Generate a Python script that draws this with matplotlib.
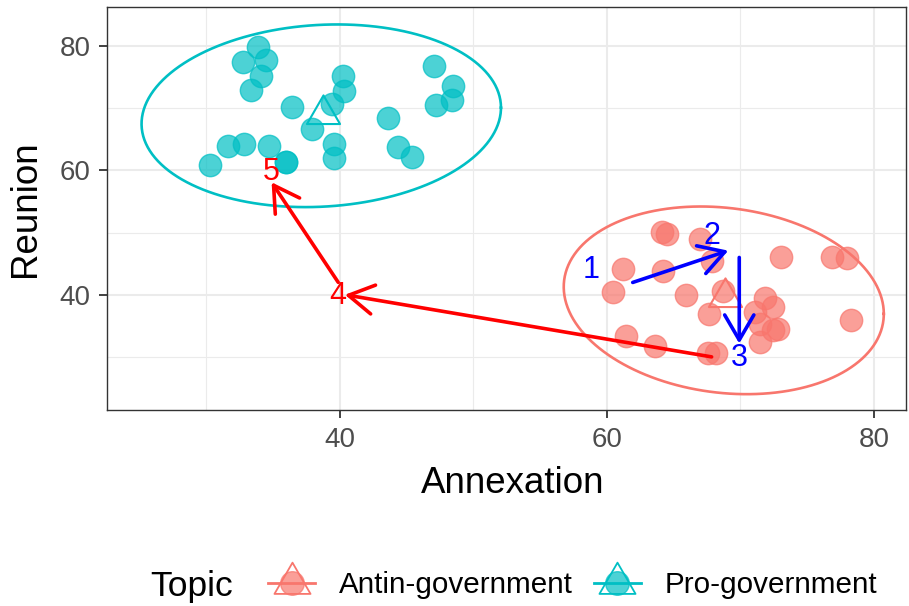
import numpy as np
import matplotlib
matplotlib.use("Agg")
import matplotlib.pyplot as plt
from matplotlib.lines import Line2D
from matplotlib.path import Path
from matplotlib.legend_handler import HandlerTuple
from matplotlib.ticker import MultipleLocator

plt.rcParams["font.family"] = ["Liberation Sans", "DejaVu Sans"]

# points
anti_x = [64.10, 64.47, 66.97, 67.84, 61.22, 60.43, 64.17, 65.92, 68.66, 67.64,
          73.00, 76.88, 77.95, 78.30, 61.42, 63.60, 67.57, 68.19, 71.84, 72.46,
          71.09, 71.46, 72.83, 72.46, 71.46]
anti_y = [50.05, 49.79, 48.98, 45.48, 44.15, 40.37, 43.76, 39.95, 40.65, 36.89,
          46.02, 46.13, 45.92, 35.97, 33.39, 31.77, 30.69, 30.69, 39.40, 38.02,
          37.26, 35.37, 34.56, 34.30, 32.40]
pro_x = [33.88, 32.71, 34.46, 34.06, 33.31, 36.38, 40.20, 40.30, 39.38, 37.88,
         31.59, 32.81, 30.26, 34.68, 35.96, 35.96, 39.57, 39.57, 43.62, 44.37,
         45.42, 47.06, 48.44, 48.41, 47.19]
pro_y = [79.90, 77.47, 77.74, 75.16, 73.02, 70.21, 75.16, 72.79, 70.65, 66.73,
         63.87, 64.31, 60.81, 63.87, 61.34, 61.34, 64.19, 62.05, 68.50, 63.76,
         62.15, 76.77, 73.60, 71.40, 70.48]

# ellipse centre and shape matrix [[a, b], [b, d]]
anti_ell_center = [68.75, 39.1]
anti_ell_shape = [[143.7, -26.0], [-26.0, 228.0]]
pro_ell_center = [38.6, 68.8]
pro_ell_shape = [[181.2, 17.5], [17.5, 216.0]]

# arrows: (x0, y0, x1, y1)
blue_arrows = [(61.93, 41.98, 69.09, 47.10), (69.91, 46.00, 69.91, 32.15)]
red_arrows = [(67.84, 30.00, 40.37, 40.00), (39.87, 42.00, 34.88, 58.10)]
blue_labels = ["1", "2", "3"]
blue_lab_x = [58.85, 67.84, 69.91]
blue_lab_y = [44.03, 49.52, 29.79]
red_labels = ["4", "5"]
red_lab_x = [39.87, 34.88]
red_lab_y = [39.73, 59.73]

topics = ["Antin-government", "Pro-government"]
colors = ["#F8766D", "#00BFC4"]

tri = Path([(-1, -0.577), (1, -0.577), (0, 1.155), (-1, -0.577)],
           [Path.MOVETO, Path.LINETO, Path.LINETO, Path.CLOSEPOLY])


def ellipse_pts(center, shape):
    t = np.linspace(0, 2 * np.pi, 300)
    L = np.linalg.cholesky(np.array(shape))
    pts = L @ np.vstack([np.cos(t), np.sin(t)])
    return center[0] + pts[0], center[1] + pts[1]


fig = plt.figure(figsize=(9.09, 6.06), dpi=100)
ax = fig.add_axes([0.1177, 0.3234, 0.879, 0.665])

groups = [(anti_x, anti_y, anti_ell_center, anti_ell_shape),
          (pro_x, pro_y, pro_ell_center, pro_ell_shape)]
handles = []
for (gx, gy, cen, shp), col in zip(groups, colors):
    ax.scatter(gx, gy, s=260, color=col, alpha=0.7, linewidths=1.0,
               edgecolors=col, zorder=3)
    ex, ey = ellipse_pts(cen, shp)
    ax.plot(ex, ey, color=col, lw=1.9, zorder=4)
    ax.plot([np.mean(gx)], [np.mean(gy)], marker=tri, ms=27.5, ls="",
            mfc="none", mec=col, mew=1.5, zorder=5)
    handles.append((Line2D([], [], color=col, lw=2.0),
                    Line2D([], [], marker="o", ls="", ms=17, color=col, alpha=0.7),
                    Line2D([], [], marker=tri, ls="", ms=30, mfc="none", mec=col, mew=1.3)))

for arrows, col in [(blue_arrows, "#0000FF"), (red_arrows, "#FF0000")]:
    for x0, y0, x1, y1 in arrows:
        ax.annotate("", xy=(x1, y1), xytext=(x0, y0),
                    arrowprops=dict(arrowstyle="->,head_length=18,head_width=10.5",
                                    mutation_scale=1, color=col, lw=2.6,
                                    shrinkA=0, shrinkB=0), zorder=6)

for lab, lx, ly in zip(blue_labels, blue_lab_x, blue_lab_y):
    ax.text(lx, ly, lab, color="#0000FF", fontsize=22, ha="center", va="center", zorder=7)
for lab, lx, ly in zip(red_labels, red_lab_x, red_lab_y):
    ax.text(lx, ly, lab, color="#FF0000", fontsize=22, ha="center", va="center", zorder=7)

ax.set_xlim(22.55, 82.4)
ax.set_ylim(21.45, 86.3)
ax.xaxis.set_major_locator(MultipleLocator(20))
ax.yaxis.set_major_locator(MultipleLocator(20))
ax.xaxis.set_minor_locator(MultipleLocator(10))
ax.yaxis.set_minor_locator(MultipleLocator(10))
ax.grid(which="major", color="#EBEBEB", lw=1.5, zorder=0)
ax.grid(which="minor", color="#EBEBEB", lw=0.8, zorder=0)
ax.set_axisbelow(True)
ax.tick_params(which="major", labelsize=20, labelcolor="#4D4D4D", color="#333333",
               length=5.5, width=1.3, pad=6.5)
ax.tick_params(which="minor", length=0)
for sp in ax.spines.values():
    sp.set_color("#333333")
    sp.set_linewidth(1.0)

ax.set_xlabel("Annexation", fontsize=26.5, labelpad=12)
ax.xaxis.set_label_coords(0.508, -0.14)
ax.set_ylabel("Reunion", fontsize=26.5, labelpad=12)

fig.text(150 / 909, 1 - 596 / 606, "Topic", fontsize=25.5, va="baseline", ha="left")
fig.legend(handles, topics, loc="center left", bbox_to_anchor=(268 / 909, 1 - 585 / 606),
           ncol=2, frameon=False, fontsize=21.3, handlelength=1.6, handletextpad=0.8,
           columnspacing=0.7, borderpad=0, borderaxespad=0,
           handler_map={tuple: HandlerTuple(ndivide=1)})

fig.savefig("out.png", dpi=100)
